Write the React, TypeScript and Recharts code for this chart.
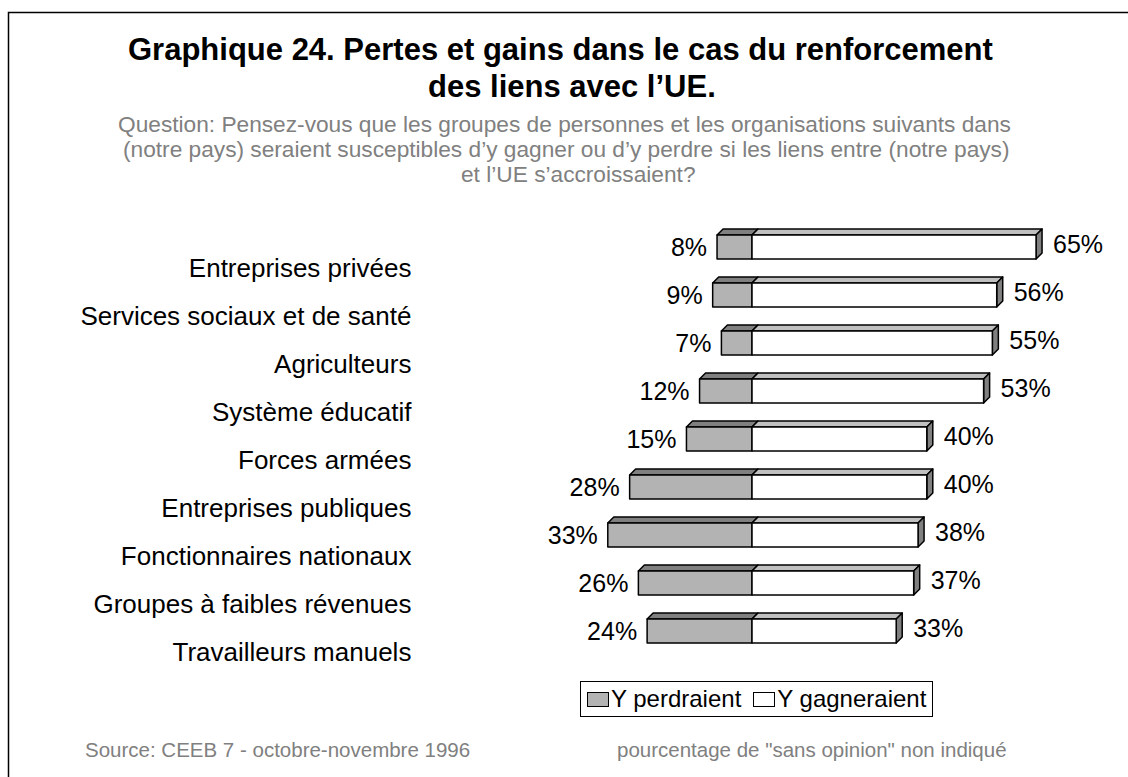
import React from 'react';
import { BarChart, Bar, XAxis, YAxis, LabelList } from 'recharts';

const categories = [
  'Entreprises privées',
  'Services sociaux et de santé',
  'Agriculteurs',
  'Système éducatif',
  'Forces armées',
  'Entreprises publiques',
  'Fonctionnaires nationaux',
  'Groupes à faibles révenues',
  'Travailleurs manuels',
];
const perdraient = [8, 9, 7, 12, 15, 28, 33, 26, 24];
const gagneraient = [65, 56, 55, 53, 40, 40, 38, 37, 33];

const titleLines = ['Graphique 24. Pertes et gains dans le cas du renforcement', 'des liens avec l’UE.'];
const questionLines = [
  'Question: Pensez-vous que les groupes de personnes et les organisations suivants dans',
  '(notre pays) seraient susceptibles d’y gagner ou d’y perdre si les liens entre (notre pays)',
  'et l’UE s’accroissaient?',
];
const sourceText = 'Source: CEEB 7 - octobre-novembre 1996';
const noteText = 'pourcentage de "sans opinion" non indiqué';

const data = categories.map((name, i) => ({
  name,
  perdraient: -perdraient[i],
  gagneraient: gagneraient[i],
}));

const FONT = '"Liberation Sans", Arial, Helvetica, sans-serif';
const D = 6; // 3d depth
const LOSS = '#b3b3b3';
const WIN = '#ffffff';

// left edge of each text line (title / question)
const titleX = [128, 428];
const questionX = [118, 123, 461];

const LossShape = (p: any) => {
  const x0 = Math.min(p.x, p.x + p.width);
  const w = Math.abs(p.width);
  const { y, height: h } = p;
  return (
    <g stroke="#000" strokeWidth={1.5} strokeLinejoin="round">
      <polygon points={`${x0},${y} ${x0 + D},${y - D} ${x0 + w + D},${y - D} ${x0 + w},${y}`} fill="#808080" />
      <rect x={x0} y={y} width={w} height={h} fill={LOSS} />
    </g>
  );
};

const GainShape = (p: any) => {
  const { x, y, width: w, height: h } = p;
  return (
    <g stroke="#000" strokeWidth={1.5} strokeLinejoin="round">
      <polygon points={`${x},${y} ${x + D},${y - D} ${x + w + D},${y - D} ${x + w},${y}`} fill="#c0c0c0" />
      <polygon points={`${x + w},${y} ${x + w + D},${y - D} ${x + w + D},${y + h - D} ${x + w},${y + h}`} fill="#808080" />
      <rect x={x} y={y} width={w} height={h} fill={WIN} />
    </g>
  );
};

const LossLabel = (p: any) => {
  const x0 = Math.min(p.x, p.x + p.width);
  return (
    <text x={x0 - 10} y={p.y + p.height / 2 + 9} textAnchor="end" fontSize={25} fontFamily={FONT} fill="#000">
      {Math.abs(p.value)}%
    </text>
  );
};

const GainLabel = (p: any) => (
  <text x={p.x + p.width + 17} y={p.y + p.height / 2 + 6} textAnchor="start" fontSize={25} fontFamily={FONT} fill="#000">
    {p.value}%
  </text>
);

const CategoryTick = (p: any) => (
  <text x={p.x + 17} y={p.y + 30} textAnchor="end" fontSize={26} fontFamily={FONT} fill="#000">
    {p.payload.value}
  </text>
);

const swatch = (bg: string) => ({
  display: 'inline-block',
  flexShrink: 0,
  width: 20,
  height: 13,
  background: bg,
  border: '1px solid #000',
  marginRight: 2,
});

const LegendBox = () => (
  <div
    style={{
      position: 'absolute',
      left: 580,
      top: 681,
      display: 'flex',
      alignItems: 'center',
      boxSizing: 'border-box',
      height: 36,
      width: 353,
      border: '1.5px solid #000',
      padding: '0 6px',
      fontFamily: FONT,
      fontSize: 24,
      color: '#000',
      background: '#fff',
      whiteSpace: 'nowrap',
    }}
  >
    <span style={swatch(LOSS)} />
    <span style={{ marginRight: 12 }}>Y perdraient</span>
    <span style={swatch(WIN)} />
    <span>Y gagneraient</span>
  </div>
);

export default function App() {
  return (
    <div style={{ position: 'absolute', left: 0, top: 0, width: 1128, height: 777, background: '#fff', overflow: 'hidden' }}>
      <svg width={1128} height={777} style={{ position: 'absolute', left: 0, top: 0 }}>
        <rect x={8.5} y={12.5} width={1300} height={900} fill="none" stroke="#000" strokeWidth={1.5} />
        {titleLines.map((t, i) => (
          <text key={t} x={titleX[i]} y={60 + i * 37} fontSize={31} fontWeight="bold" fontFamily={FONT} fill="#000">
            {t}
          </text>
        ))}
        {questionLines.map((t, i) => (
          <text key={t} x={questionX[i]} y={132 + i * 25} fontSize={22.7} fontFamily={FONT} fill="#808080">
            {t}
          </text>
        ))}
        <text x={85} y={757} fontSize={20.5} fontFamily={FONT} fill="#808080">{sourceText}</text>
        <text x={617} y={757} fontSize={20.5} fontFamily={FONT} fill="#808080">{noteText}</text>
      </svg>
      <div style={{ position: 'absolute', left: 0, top: 0 }}>
        <BarChart
          width={1128}
          height={777}
          data={data}
          layout="vertical"
          barSize={24}
          stackOffset="sign"
          margin={{ top: 223, right: 26.4, bottom: 122, left: 342.4 }}
        >
          <XAxis type="number" domain={[-80, 80]} hide />
          <YAxis
            type="category"
            dataKey="name"
            width={60}
            axisLine={false}
            tickLine={false}
            tick={<CategoryTick />}
            interval={0}
          />
          <Bar dataKey="perdraient" stackId="a" shape={<LossShape />} isAnimationActive={false}>
            <LabelList dataKey="perdraient" content={<LossLabel />} />
          </Bar>
          <Bar dataKey="gagneraient" stackId="a" shape={<GainShape />} isAnimationActive={false}>
            <LabelList dataKey="gagneraient" content={<GainLabel />} />
          </Bar>
        </BarChart>
      </div>
      <LegendBox />
    </div>
  );
}
